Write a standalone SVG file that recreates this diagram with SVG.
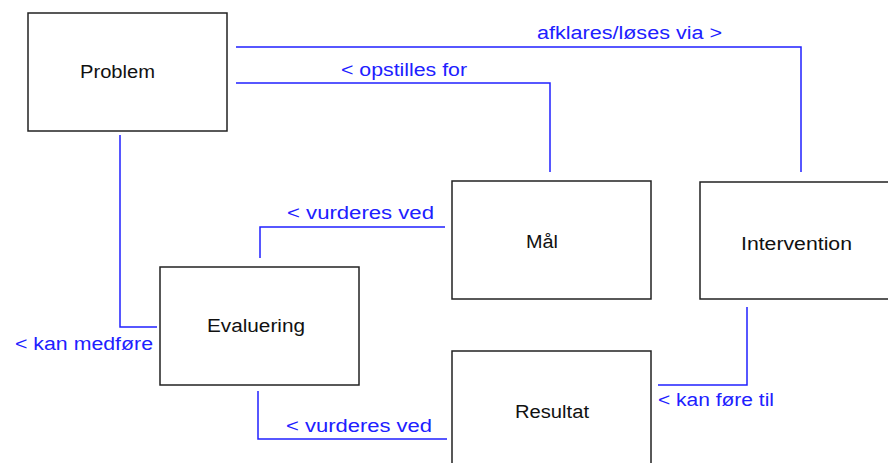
<svg xmlns="http://www.w3.org/2000/svg" width="888" height="463" viewBox="0 0 888 463">
  <style>
    .box { fill: #ffffff; stroke: #222222; stroke-width: 1.5; }
    .name { font-family: "Liberation Sans", Arial, sans-serif; font-size: 18px; fill: #111111; }
    .link { fill: none; stroke: #2020ff; stroke-width: 1.5; }
    .label { font-family: "Liberation Sans", Arial, sans-serif; font-size: 18px; fill: #2020ff; }
  </style>
  <rect width="888" height="463" fill="#ffffff"/>

  <!-- connectors with their role labels -->
  <g id="connectors">
    <polyline class="link" points="236,47 801,47 801,172"/>
    <text class="label" x="537" y="39" textLength="185" lengthAdjust="spacingAndGlyphs">afklares/løses via &gt;</text>

    <polyline class="link" points="236,83 550,83 550,172"/>
    <text class="label" x="341" y="76" textLength="126" lengthAdjust="spacingAndGlyphs">&lt; opstilles for</text>

    <polyline class="link" points="120,135 120,327 157,327"/>
    <text class="label" x="15" y="350" textLength="138" lengthAdjust="spacingAndGlyphs">&lt; kan medføre</text>

    <polyline class="link" points="260,258 260,227 445,227"/>
    <text class="label" x="287" y="219" textLength="147" lengthAdjust="spacingAndGlyphs">&lt; vurderes ved</text>

    <polyline class="link" points="258,391 258,439 447,439"/>
    <text class="label" x="286" y="432" textLength="146" lengthAdjust="spacingAndGlyphs">&lt; vurderes ved</text>

    <polyline class="link" points="747,307 747,385 658,385"/>
    <text class="label" x="658" y="406" textLength="116" lengthAdjust="spacingAndGlyphs">&lt; kan føre til</text>
  </g>

  <g id="problem">
    <rect class="box" x="28" y="13" width="199" height="118"/>
    <text class="name" x="80" y="78" textLength="75" lengthAdjust="spacingAndGlyphs">Problem</text>
  </g>

  <g id="maal">
    <rect class="box" x="452" y="181" width="199" height="118"/>
    <text class="name" x="526" y="248" textLength="32" lengthAdjust="spacingAndGlyphs">Mål</text>
  </g>

  <g id="intervention">
    <rect class="box" x="700" y="182" width="199" height="117"/>
    <text class="name" x="741" y="250" textLength="111" lengthAdjust="spacingAndGlyphs">Intervention</text>
  </g>

  <g id="evaluering">
    <rect class="box" x="160" y="267" width="199" height="118"/>
    <text class="name" x="207" y="332" textLength="98" lengthAdjust="spacingAndGlyphs">Evaluering</text>
  </g>

  <g id="resultat">
    <rect class="box" x="452" y="351" width="199" height="130"/>
    <text class="name" x="515" y="418" textLength="74" lengthAdjust="spacingAndGlyphs">Resultat</text>
  </g>
</svg>
